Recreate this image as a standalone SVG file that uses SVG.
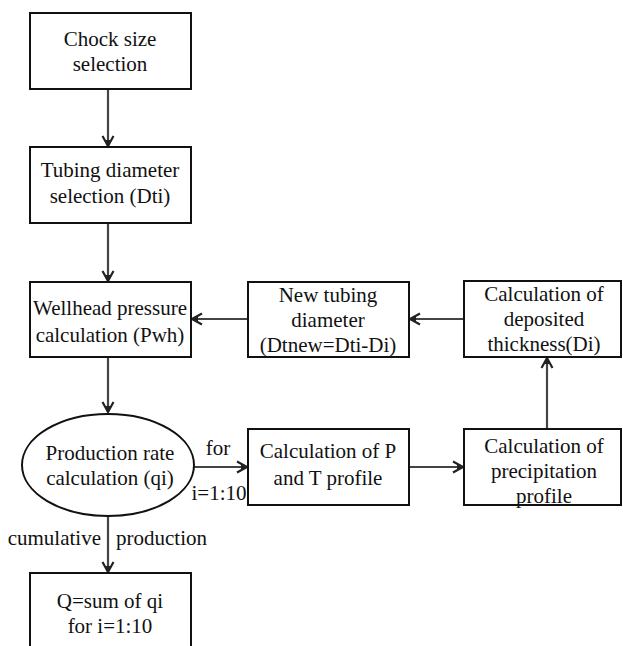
<svg xmlns="http://www.w3.org/2000/svg" width="623" height="646" viewBox="0 0 623 646">
<style>
.box{fill:#fff;stroke:#111;stroke-width:2}
text{font-family:'Liberation Serif','Times New Roman',serif;font-size:21px;fill:#111;text-anchor:middle}
.c{fill:none;stroke:#444;stroke-width:2.2}
</style>
<defs>
<marker id="ah" markerUnits="userSpaceOnUse" markerWidth="14" markerHeight="14" refX="11" refY="7" orient="auto">
<path d="M1,1.5 L11,7 L1,12.5" fill="none" stroke="#222" stroke-width="2.2"/>
<path d="M5,4.5 L11,7 L5,9.5 Z" fill="#222"/>
</marker>
</defs>
<rect width="623" height="646" fill="#fff"/>
<g id="connectors">
<line class="c" x1="108" y1="89" x2="108" y2="146" marker-end="url(#ah)"/>
<line class="c" x1="108" y1="223" x2="108" y2="281" marker-end="url(#ah)"/>
<line class="c" x1="464" y1="319" x2="410" y2="319" marker-end="url(#ah)"/>
<line class="c" x1="248" y1="319" x2="192" y2="319" marker-end="url(#ah)"/>
<line class="c" x1="108" y1="357" x2="108" y2="412" marker-end="url(#ah)"/>
<line class="c" x1="194" y1="467" x2="247" y2="467" marker-end="url(#ah)"/>
<line class="c" x1="409" y1="467" x2="463" y2="467" marker-end="url(#ah)"/>
<line class="c" x1="547" y1="429" x2="547" y2="358" marker-end="url(#ah)"/>
<line class="c" x1="108" y1="516" x2="108" y2="572" marker-end="url(#ah)"/>
<text x="218" y="455">for</text>
<text x="219" y="500">i=1:10</text>
<text x="101" y="545" style="text-anchor:end">cumulative</text>
<text x="116" y="545" style="text-anchor:start">production</text>
</g>
<g id="chock">
<rect class="box" x="30" y="13" width="161" height="76"/>
<text x="110" y="46">Chock size</text>
<text x="110" y="71">selection</text>
</g>
<g id="tubing">
<rect class="box" x="30" y="147" width="161" height="76"/>
<text x="110" y="177">Tubing diameter</text>
<text x="110" y="203">selection (Dti)</text>
</g>
<g id="wellhead">
<rect class="box" x="30" y="282" width="161" height="75"/>
<text x="110" y="315">Wellhead pressure</text>
<text x="110" y="342">calculation (Pwh)</text>
</g>
<g id="newtubing">
<rect class="box" x="248" y="282" width="161" height="75"/>
<text x="328" y="302">New tubing</text>
<text x="328" y="327">diameter</text>
<text x="328" y="352">(Dtnew=Dti-Di)</text>
</g>
<g id="deposited">
<rect class="box" x="464" y="281" width="157" height="76"/>
<text x="544" y="301">Calculation of</text>
<text x="544" y="326">deposited</text>
<text x="544" y="351">thickness(Di)</text>
</g>
<g id="production">
<ellipse cx="108" cy="465" rx="86" ry="51" fill="#fff" stroke="#111" stroke-width="2"/>
<text x="110" y="460">Production rate</text>
<text x="110" y="485">calculation (qi)</text>
</g>
<g id="ptprofile">
<rect class="box" x="248" y="429" width="161" height="76"/>
<text x="328" y="458">Calculation of P</text>
<text x="328" y="485">and T profile</text>
</g>
<g id="precipitation">
<rect class="box" x="464" y="429" width="157" height="76"/>
<text x="544" y="453">Calculation of</text>
<text x="544" y="478">precipitation</text>
<text x="544" y="503">profile</text>
</g>
<g id="sum">
<rect class="box" x="30" y="573" width="161" height="80"/>
<text x="110" y="608">Q=sum of qi</text>
<text x="110" y="633">for i=1:10</text>
</g>
</svg>
